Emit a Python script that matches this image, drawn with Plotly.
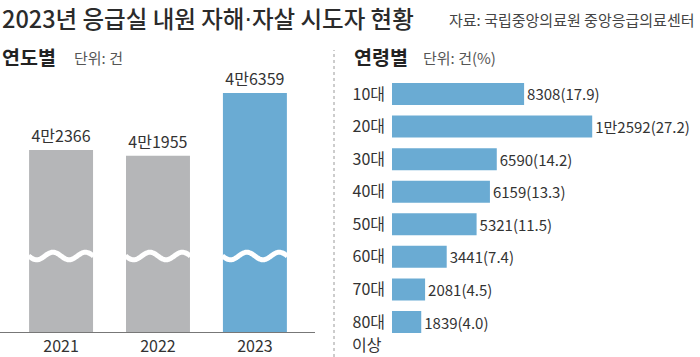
import numpy as np
import plotly.graph_objects as go

# ---- data ----
years = ["2021", "2022", "2023"]
year_totals = [42366, 41955, 46359]
age_groups = ["10대", "20대", "30대", "40대", "50대", "60대", "70대", "80대"]
age_counts = [8308, 12592, 6590, 6159, 5321, 3441, 2081, 1839]
age_shares = [17.9, 27.2, 14.2, 13.3, 11.5, 7.4, 4.5, 4.0]

W, H = 700, 357
FONT = "Noto Sans CJK KR"
GRAY = "#b5b6b8"
BLUE = "#6aabd3"
TXT = "#333333"


def fmt(v):
    return f"{v // 10000}만{v % 10000}" if v >= 10000 else str(v)


def py(pix):  # pixel from top -> paper
    return (H - pix) / H


def px(pix):
    return pix / W


fig = go.Figure()

# ---- left: yearly totals (broken axis) ----
y_lo, y_hi = 29620, 48668
left_bottom, left_top = 332, 60
ppu = (left_bottom - left_top) / (y_hi - y_lo)
xpos = list(range(len(years)))

fig.add_trace(go.Bar(
    x=xpos, y=year_totals, width=0.66,
    marker=dict(color=[GRAY, GRAY, BLUE], line=dict(width=0)),
    text=[fmt(v) for v in year_totals], textposition="outside",
    textfont=dict(family=FONT, size=16, color=TXT),
    constraintext="none", cliponaxis=False,
    xaxis="x", yaxis="y", hoverinfo="skip",
))

# wavy break marks (decoration)
wave_c = y_lo + (left_bottom - 256) / ppu
amp = 3.8 / ppu
for i in xpos:
    t = np.linspace(0, 1, 80)
    xs = i - 0.335 + 0.67 * t
    ys = wave_c + amp * np.sin(2 * np.pi * 2 * t + np.pi)
    fig.add_trace(go.Scatter(x=xs, y=ys, mode="lines",
                             line=dict(color="white", width=5, shape="spline"),
                             xaxis="x", yaxis="y", hoverinfo="skip"))

# ---- right: by age ----
fig.add_trace(go.Bar(
    y=age_groups, x=age_counts, orientation="h",
    marker=dict(color=BLUE, line=dict(width=0)),
    text=[f"{fmt(c)}({s:.1f})" for c, s in zip(age_counts, age_shares)],
    textposition="outside",
    textfont=dict(family=FONT, size=15, color=TXT),
    constraintext="none", cliponaxis=False,
    xaxis="x2", yaxis="y2", hoverinfo="skip",
))

fig.update_layout(
    width=W, height=H,
    margin=dict(l=0, r=0, t=0, b=0),
    paper_bgcolor="white", plot_bgcolor="white",
    showlegend=False, bargap=0.325,
    font=dict(family=FONT, color=TXT),
    xaxis=dict(domain=[0, px(315)], range=[-0.63, 2.62],
               tickvals=xpos, ticktext=years,
               tickfont=dict(size=16, color=TXT),
               showgrid=False, zeroline=False, showline=True,
               linecolor="#777777", linewidth=1, ticks="",
               fixedrange=True),
    yaxis=dict(domain=[py(left_bottom), py(left_top)], range=[y_lo, y_hi],
               visible=False, fixedrange=True),
    xaxis2=dict(domain=[px(392), 1], range=[0, 19371], visible=False,
                anchor="y2", fixedrange=True),
    yaxis2=dict(domain=[py(338.3), py(77.7)], anchor="x2",
                autorange="reversed", showgrid=False, zeroline=False,
                showline=False, ticks="", ticklabelstandoff=6,
                tickfont=dict(size=16, color=TXT), fixedrange=True),
)

title = ("2023년 응급실 내원 자해"
         "<span style='font-family:DejaVu Sans'>·</span>"
         "자살 시도자 현황")

annotations = [
    dict(text=title, x=0, y=py(18),
         xanchor="left", yanchor="middle",
         font=dict(size=23.5, color="#2b2b2b", weight=500)),
    dict(text="자료: 국립중앙의료원 중앙응급의료센터", x=px(697), y=py(19),
         xanchor="right", yanchor="middle",
         font=dict(size=15, color="#444444")),
    dict(text="<b>연도별</b>", x=0, y=py(57), xanchor="left", yanchor="middle",
         font=dict(size=19.5, color="#222222")),
    dict(text="단위: 건", x=px(72), y=py(58), xanchor="left", yanchor="middle",
         font=dict(size=15, color="#555555")),
    dict(text="<b>연령별</b>", x=px(352), y=py(57), xanchor="left", yanchor="middle",
         font=dict(size=19.5, color="#222222")),
    dict(text="단위: 건(%)", x=px(421), y=py(58), xanchor="left", yanchor="middle",
         font=dict(size=15, color="#555555")),
    dict(text="이상", x=px(384), y=py(344), xanchor="right", yanchor="middle",
         font=dict(size=16, color=TXT)),
]
for a in annotations:
    a.update(xref="paper", yref="paper", showarrow=False)
fig.update_layout(annotations=annotations)

fig.add_shape(type="line", xref="paper", yref="paper",
              x0=px(334), x1=px(334), y0=0, y1=py(50),
              line=dict(color="#9a9a9a", width=1, dash="dot"))

fig.write_html("out.html", config={"displayModeBar": False},
               post_script="document.body.style.margin='0';document.body.style.padding='0';")
